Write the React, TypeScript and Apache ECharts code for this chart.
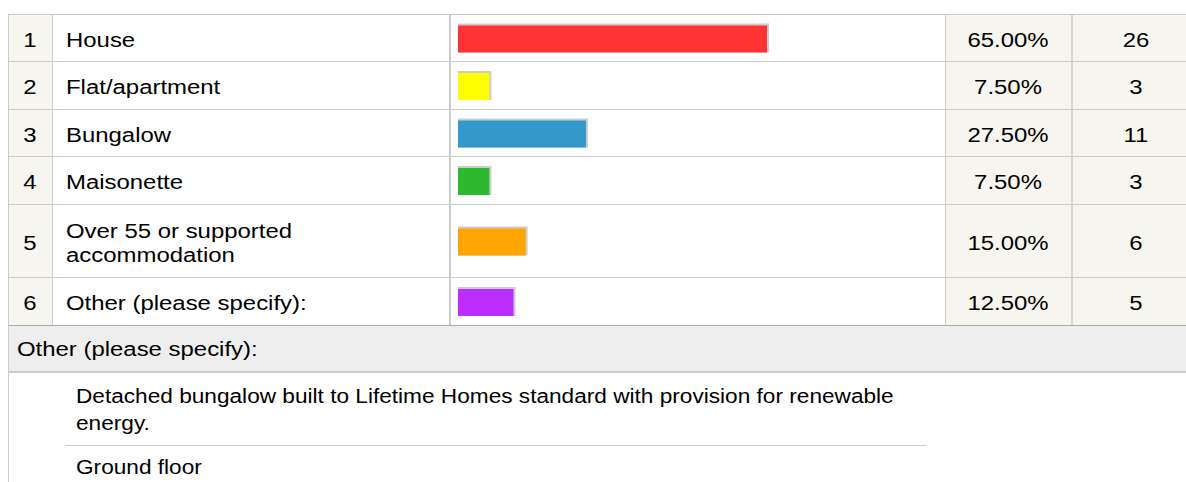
import React, { useEffect, useRef } from "react";
import * as echarts from "echarts";

// ---- data ----
const categories = [
  "House",
  "Flat/apartment",
  "Bungalow",
  "Maisonette",
  "Over 55 or supported\naccommodation",
  "Other (please specify):",
];
const percents = [65, 7.5, 27.5, 7.5, 15, 12.5];
const counts = [26, 3, 11, 3, 6, 5];
const otherHeader = "Other (please specify):";
const otherResponses = [
  "Detached bungalow built to Lifetime Homes standard with provision for renewable\nenergy.",
  "Ground floor",
];

// ---- styles / layout ----
const barColors = ["#ff3333", "#ffff00", "#3399cc", "#2eb82e", "#ffa500", "#bb2eff"];
const ROW_HEIGHTS = [47, 48, 47, 48, 73, 48];
const TABLE_TOP = 14;
const FONT = "'Liberation Sans', Arial, Helvetica, sans-serif";
const FS = 21;
const SX = 1.14;
const SX_RESP = 1.078;
const BEIGE = "#f6f5ef";
const LINE = "#cccccc";

export default function App() {
  const ref = useRef<HTMLDivElement>(null);

  useEffect(() => {
    if (!ref.current) return;
    const chart = echarts.init(ref.current, undefined, { renderer: "svg" });

    const rowTops: number[] = [];
    let acc = TABLE_TOP;
    ROW_HEIGHTS.forEach((h) => {
      rowTops.push(acc);
      acc += h;
    });
    const tableBottom = acc;

    const BAR_BOX = 29;
    const grids = ROW_HEIGHTS.map((h, i) => ({
      left: 458,
      width: 478,
      top: rowTops[i] + (h - BAR_BOX) / 2 + 0.5,
      height: BAR_BOX,
    }));
    const xAxes = ROW_HEIGHTS.map((_, i) => ({
      type: "value",
      gridIndex: i,
      min: 1,
      max: 100,
      show: false,
    }));
    const yAxes = ROW_HEIGHTS.map((_, i) => ({
      type: "category",
      gridIndex: i,
      data: [categories[i]],
      show: false,
    }));
    const series = percents.map((p, i) => ({
      type: "custom",
      xAxisIndex: i,
      yAxisIndex: i,
      z: 10,
      data: [[p, 0]],
      renderItem: (params: any, api: any) => {
        const end = api.coord([api.value(0), 0]);
        const start = api.coord([1, 0]);
        const bh = api.size([0, 1])[1];
        const w = end[0] - start[0];
        return {
          type: "group",
          children: [
            {
              type: "rect",
              shape: { x: start[0], y: end[1] - bh / 2, width: w + 2, height: bh },
              style: { fill: "#cccccc" },
            },
            {
              type: "rect",
              shape: { x: start[0], y: end[1] - bh / 2 + 2, width: w, height: bh - 2 },
              style: { fill: barColors[i] },
            },
          ],
        };
      },
    }));

    const g: any[] = [];
    const hline = (x1: number, x2: number, y: number, color = LINE, lw = 1) =>
      g.push({ type: "line", z: 1, shape: { x1, y1: y, x2, y2: y }, style: { stroke: color, lineWidth: lw } });
    const vline = (x: number, y1: number, y2: number, color = LINE, lw = 1) =>
      g.push({ type: "line", z: 1, shape: { x1: x, y1, x2: x, y2 }, style: { stroke: color, lineWidth: lw } });
    const text = (t: string, x: number, y: number, align: string, lh = FS + 2, sx = SX) =>
      g.push({
        type: "text",
        z: 5,
        x,
        y,
        scaleX: sx,
        style: {
          text: t,
          x: 0,
          y: 0,
          fill: "#000",
          font: `${FS}px ${FONT}`,
          fontSize: FS,
          fontFamily: FONT,
          align,
          verticalAlign: "middle",
          lineHeight: lh,
        },
      });

    // backgrounds
    g.push({ type: "rect", z: 0, shape: { x: 8, y: TABLE_TOP, width: 44, height: tableBottom - TABLE_TOP }, style: { fill: BEIGE } });
    g.push({ type: "rect", z: 0, shape: { x: 946, y: TABLE_TOP, width: 240, height: tableBottom - TABLE_TOP }, style: { fill: BEIGE } });
    g.push({ type: "rect", z: 0, shape: { x: 8, y: tableBottom, width: 1178, height: 47 }, style: { fill: "#eeeeee" } });

    // grid lines
    hline(8, 1186, TABLE_TOP + 0.5);
    rowTops.slice(1).forEach((y) => hline(8, 1186, y + 0.5));
    hline(8, 1186, tableBottom + 0.5, "#aaaaaa");
    vline(8.5, TABLE_TOP, 482);
    vline(52.5, TABLE_TOP, tableBottom);
    vline(450, TABLE_TOP, tableBottom, LINE, 2);
    vline(945.5, TABLE_TOP, tableBottom);
    vline(1072, TABLE_TOP, tableBottom, LINE, 1.5);
    hline(8, 1186, tableBottom + 47, LINE, 2);
    hline(65, 926, 445.5);

    // table texts
    categories.forEach((c, i) => {
      const cy = rowTops[i] + ROW_HEIGHTS[i] / 2 + 2.5;
      text(String(i + 1), 30, cy, "center");
      text(c, 66, cy, "left", 23);
      text(percents[i].toFixed(2) + "%", 1008, cy, "center");
      text(String(counts[i]), 1136, cy, "center");
    });

    text(otherHeader, 17, tableBottom + 24.5, "left");
    text(otherResponses[0], 76, 409.5, "left", 27, SX_RESP);
    text(otherResponses[1], 76, 467, "left", FS + 2, SX_RESP);

    chart.setOption({
      animation: false,
      backgroundColor: "#ffffff",
      grid: grids,
      xAxis: xAxes,
      yAxis: yAxes,
      series,
      graphic: { elements: g },
    });

    return () => chart.dispose();
  }, []);

  return (
    <div
      ref={ref}
      style={{ position: "fixed", left: 0, top: 0, width: 1186, height: 482 }}
    />
  );
}
